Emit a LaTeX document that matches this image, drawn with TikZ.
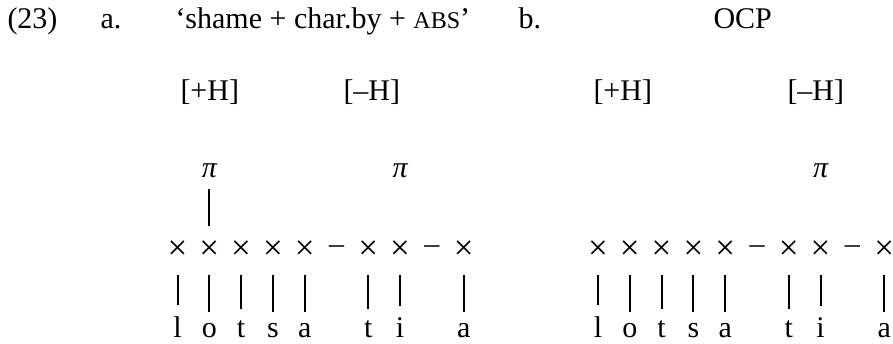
\documentclass[tikz,border=0pt]{standalone}
\usepackage{fontspec}
\setmainfont{Liberation Serif}
\usepackage{tikz}

\begin{document}
\begin{tikzpicture}[x=0.4pt, y=-0.4pt]
\tikzset{
  txt/.style={anchor=base west,inner sep=0pt,font=\fontsize{12}{14}\selectfont},
  slot/.style={anchor=center,inner sep=0pt,font=\fontsize{14}{16}\selectfont},
  gap/.style={anchor=center,inner sep=0pt,font=\fontsize{12}{14}\selectfont},
  seg/.style={anchor=base,inner sep=0pt,font=\fontsize{12}{14}\selectfont},
  tone/.style={anchor=base,inner sep=0pt,font=\fontsize{12}{14}\selectfont\itshape},
  bar/.style={line width=0.8pt,shorten <=6pt,shorten >=4.2pt},
  tbar/.style={line width=0.8pt,shorten <=4.4pt,shorten >=5.8pt}
}
\useasboundingbox (0,0) rectangle (893,343);
% ---- heading
\node[txt] (num) at (7,28)   {(23)};
\node[txt] (ha)  at (100,28) {a.};
\node[txt] (gl)  at (175,28) {`shame + char.by + {\fontsize{9.6}{10}\selectfont ABS}'};
\node[txt] (hb)  at (518,28) {b.};
\node[txt] (ocp) at (713,28) {OCP};
% ---- features
\node[txt] (fa1) at (180,100) {[+H]};
\node[txt] (fa2) at (343,100) {[–H]};
\node[txt] (fb1) at (593,100) {[+H]};
\node[txt] (fb2) at (787,100) {[–H]};
% ---- a: tones
\node[tone] (pa1) at (209.3,177) {π};
\node[tone] (pa2) at (400.1,177) {π};
% ---- a: skeleton
\node[slot] (xa1)  at (177.5,250) {×};
\node[slot] (xa2)  at (209.3,250) {×};
\node[slot] (xa3)  at (241.1,250) {×};
\node[slot] (xa4)  at (272.9,250) {×};
\node[slot] (xa5)  at (304.7,250) {×};
\node[gap]  (da6)  at (336.5,250) {–};
\node[slot] (xa7)  at (368.3,250) {×};
\node[slot] (xa8)  at (400.1,250) {×};
\node[gap]  (da9)  at (431.9,250) {–};
\node[slot] (xa10) at (463.7,250) {×};
% ---- a: segments
\node[seg] (la1)  at (177.5,337) {l};
\node[seg] (la2)  at (209.3,337) {o};
\node[seg] (la3)  at (241.1,337) {t};
\node[seg] (la4)  at (272.9,337) {s};
\node[seg] (la5)  at (304.7,337) {a};
\node[seg] (la7)  at (368.3,337) {t};
\node[seg] (la8)  at (400.1,337) {i};
\node[seg] (la10) at (463.7,337) {a};
% ---- b: tones
\node[tone] (pb1) at (820.6,177) {π};
% ---- b: skeleton
\node[slot] (xb1)  at (598.0,250) {×};
\node[slot] (xb2)  at (629.8,250) {×};
\node[slot] (xb3)  at (661.6,250) {×};
\node[slot] (xb4)  at (693.4,250) {×};
\node[slot] (xb5)  at (725.2,250) {×};
\node[gap]  (db6)  at (757.0,250) {–};
\node[slot] (xb7)  at (788.8,250) {×};
\node[slot] (xb8)  at (820.6,250) {×};
\node[gap]  (db9)  at (852.4,250) {–};
\node[slot] (xb10) at (884.2,250) {×};
% ---- b: segments
\node[seg] (lb1)  at (598.0,337) {l};
\node[seg] (lb2)  at (629.8,337) {o};
\node[seg] (lb3)  at (661.6,337) {t};
\node[seg] (lb4)  at (693.4,337) {s};
\node[seg] (lb5)  at (725.2,337) {a};
\node[seg] (lb7)  at (788.8,337) {t};
\node[seg] (lb8)  at (820.6,337) {i};
\node[seg] (lb10) at (884.2,337) {a};
% ---- association lines
\draw[tbar] (pa1)--(xa2);
\draw[bar] (xa1)--(la1); \draw[bar] (xa2)--(la2); \draw[bar] (xa3)--(la3);
\draw[bar] (xa4)--(la4); \draw[bar] (xa5)--(la5);
\draw[bar] (xa7)--(la7); \draw[bar] (xa8)--(la8); \draw[bar] (xa10)--(la10);
\draw[bar] (xb1)--(lb1); \draw[bar] (xb2)--(lb2); \draw[bar] (xb3)--(lb3);
\draw[bar] (xb4)--(lb4); \draw[bar] (xb5)--(lb5);
\draw[bar] (xb7)--(lb7); \draw[bar] (xb8)--(lb8); \draw[bar] (xb10)--(lb10);
\end{tikzpicture}
\end{document}
